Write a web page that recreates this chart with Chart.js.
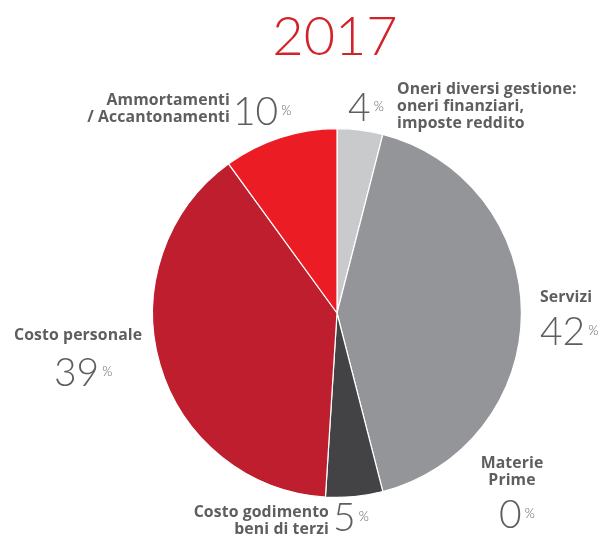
<!DOCTYPE html>
<html>
<head>
<meta charset="utf-8">
<script src="https://cdn.jsdelivr.net/npm/chart.js@4/dist/chart.umd.min.js"></script>
<style>
  html, body { margin:0; padding:0; background:#fff; }
  #wrap { position:relative; width:606px; height:538px; overflow:hidden; }
  #c { position:absolute; left:0; top:0; }
  .t { position:absolute; font-family:"Open Sans","DejaVu Sans",sans-serif; font-weight:700; color:#5d5e60; font-size:15.8px; line-height:17px; white-space:nowrap; letter-spacing:0.1px; }
  .n { position:absolute; font-family:"Lato","Open Sans",sans-serif; font-weight:300; color:#5d5e60; white-space:nowrap; line-height:1; }
  .n .big { font-size:39px; }
  .n .pc { font-size:13px; margin-left:3px; vertical-align:10px; }
  #title { position:absolute; left:0; width:670px; top:8px; text-align:center; font-family:"Lato","Open Sans",sans-serif; font-weight:300; font-size:54px; color:#d2232a; line-height:1; }
</style>
</head>
<body>
<div id="wrap">
  <canvas id="c" width="606" height="538"></canvas>
  <div id="title"></div>
  <div id="labels"></div>
</div>
<script>
const title = "2017";
const categories = [
  "Oneri diversi gestione: oneri finanziari, imposte reddito",
  "Servizi",
  "Materie Prime",
  "Costo godimento beni di terzi",
  "Costo personale",
  "Ammortamenti / Accantonamenti"
];
const values = [4, 42, 0, 5, 39, 10];
const colors = ["#c9cacc", "#939598", "#939598", "#434244", "#be1e2d", "#ec1c24"];

document.getElementById('title').textContent = title;

new Chart(document.getElementById('c'), {
  type: 'pie',
  data: {
    labels: categories,
    datasets: [{
      data: values,
      backgroundColor: colors,
      borderColor: '#ffffff',
      borderWidth: 1.2,
      hoverOffset: 0,
      offset: 0
    }]
  },
  options: {
    responsive: false,
    animation: false,
    events: [],
    layout: { padding: { left: 152, right: 84, top: 128, bottom: 40 } },
    plugins: { legend: { display: false }, tooltip: { enabled: false } }
  }
});

const labelDefs = [
  { lines: ["Oneri diversi gestione:", "oneri finanziari,", "imposte reddito"], align: "left", x: 397, y: 80, nx: 348, ny: 87, idx: 0 },
  { lines: ["Servizi"], align: "left", x: 540, y: 288, nx: 540, ny: 311, idx: 1 },
  { lines: ["Materie", "Prime"], align: "center", x: 512, y: 454, nx: 499, ny: 494, idx: 2 },
  { lines: ["Costo godimento", "beni di terzi"], align: "right", x: 329, y: 503, nx: 333, ny: 497, idx: 3 },
  { lines: ["Costo personale"], align: "left", x: 14, y: 326, nx: 54, ny: 352, idx: 4 },
  { lines: ["Ammortamenti", "/ Accantonamenti"], align: "right", x: 230, y: 91, nx: 233, ny: 91, idx: 5 }
];
const lab = document.getElementById('labels');
labelDefs.forEach(d => {
  const t = document.createElement('div');
  t.className = 't';
  t.style.top = d.y + 'px';
  t.style.textAlign = d.align;
  if (d.align === 'right') { t.style.right = (606 - d.x) + 'px'; }
  else if (d.align === 'center') { t.style.left = (d.x - 60) + 'px'; t.style.width = '120px'; }
  else { t.style.left = d.x + 'px'; }
  t.innerHTML = d.lines.join('<br>');
  lab.appendChild(t);
  const n = document.createElement('div');
  n.className = 'n';
  n.style.left = d.nx + 'px';
  n.style.top = d.ny + 'px';
  n.innerHTML = '<span class="big">' + values[d.idx] + '</span><span class="pc">%</span>';
  lab.appendChild(n);
});
</script>
</body>
</html>
